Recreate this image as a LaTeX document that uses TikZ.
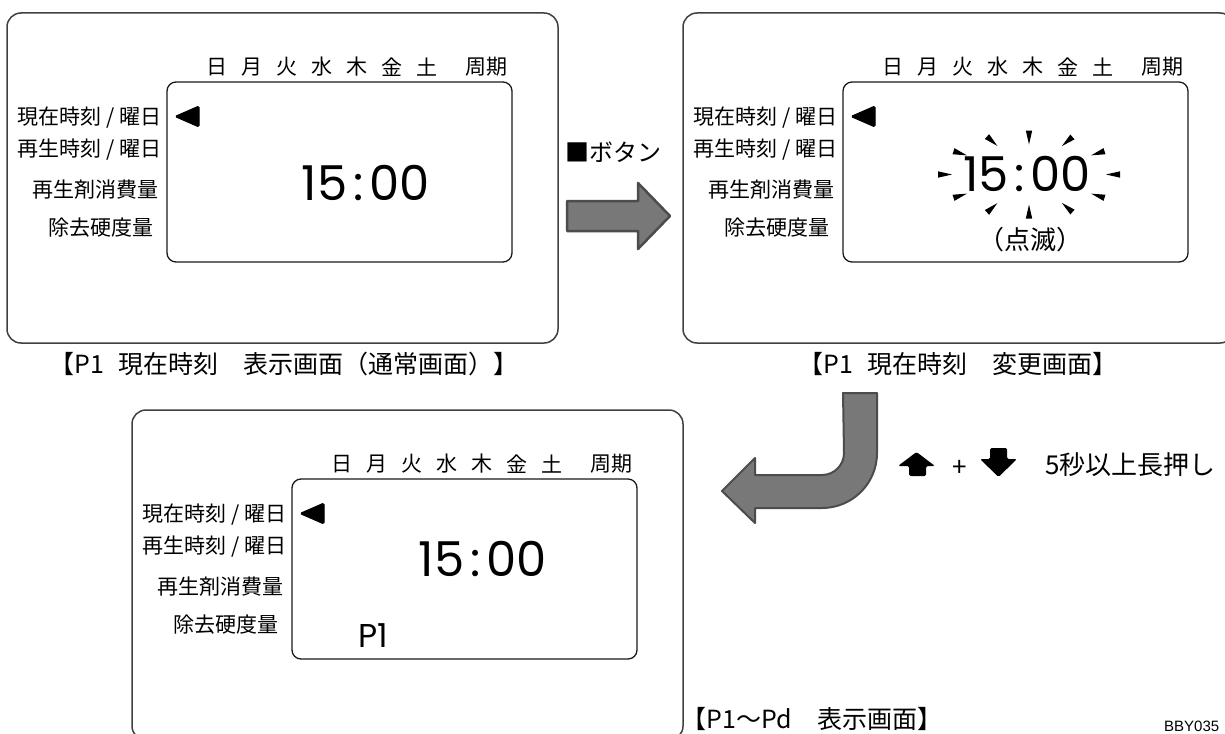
\documentclass[tikz,border=0pt]{standalone}
\usepackage{fontspec}
\setmainfont{Noto Sans CJK JP}
\newfontfamily\digfont{Poppins}
\newfontfamily\codefont{Liberation Sans}
\newcommand\slashsep{\hspace{5pt}/\hspace{5pt}}
\newcommand\clocktext{15\kern6pt:\kern6pt00}
\newcommand\drawpanel{%
  \node[outerbox, minimum width=551pt, minimum height=330pt] (frame) at (282.5,178) {};
  \node[screen, minimum width=345pt, minimum height=180pt] (screen) at (339.5,172) {};
  \foreach \d/\x [count=\i] in {日/217,月/252,火/287,水/322,木/357,金/392,土/427,周期/486}
    \node[day] (day\i) at (\x,67) {\d};
  \draw[cursor] (175,116.5) -- (199,106) -- (199,127) -- cycle;
  \node[lbl] (l1) at (162,118) {現在時刻\slashsep 曜日};
  \node[lbl] (l2) at (162,150) {再生時刻\slashsep 曜日};
  \node[lbl] (l3) at (159,190) {再生剤消費量};
  \node[lbl] (l4) at (154,228) {除去硬度量};
}
\begin{document}
\begin{tikzpicture}[x=1pt,y=-1pt, line join=round,
  outerbox/.style={draw=black!75, line width=1.5pt, rounded corners=14pt, inner sep=0pt},
  screen/.style={draw=black!90, line width=1.3pt, rounded corners=9pt, inner sep=0pt},
  lbl/.style={font=\fontsize{21}{21}\selectfont, inner sep=0pt, anchor=east},
  day/.style={font=\fontsize{21}{21}\selectfont, inner sep=0pt},
  caption/.style={font=\fontsize{25}{25}\selectfont, inner sep=0pt},
  clock/.style={font=\digfont\fontsize{48}{48}\selectfont, inner sep=0pt},
  plabel/.style={font=\digfont\fontsize{33}{33}\selectfont, inner sep=0pt},
  note/.style={font=\fontsize{26}{26}\selectfont, inner sep=0pt},
  cursor/.style={fill=black, draw=black, line width=1pt, rounded corners=1.5pt},
  blockarrow/.style={fill=black!53, draw=black!70, line width=2.5pt},
  keyarrow/.style={fill=black, rounded corners=1.5pt},
  spike/.style={fill=black}]
\useasboundingbox (0,0) rectangle (1225,733);
\fill[white] (0,0) rectangle (1225,733);

% Panel 1
\begin{scope}[name prefix=a-]
  \drawpanel
  \node[clock] (time) at (366,183.5) {\clocktext};
\end{scope}
\node[caption] (cap1) at (284,364) {【P1\hspace{0.55em}現在時刻　表示画面（通常画面）】};

% Panel 2
\begin{scope}[shift={(676,0)}, name prefix=b-]
  \drawpanel
\end{scope}
\node[clock] (b-time) at (1027,174.5) {\clocktext};
\foreach \t in {0,35,63,90,116,145,180,215,244,270,297,325}{
  \pgfmathsetmacro{\dir}{-atan2(37*sin(\t),84*cos(\t))}
  \pgfmathsetmacro{\px}{1029+84*cos(\t)}
  \pgfmathsetmacro{\py}{174.5+37*sin(\t)}
  \begin{scope}[shift={(\px,\py)}, rotate=\dir]
    \fill[spike] (7,-3.2) -- (7,3.2) -- (-7,0) -- cycle;
  \end{scope}
}
\node[font=\fontsize{26}{26}\selectfont, inner sep=0pt] (blink) at (1030,240) {（点滅）};
\node[caption] (cap2) at (958,364) {【P1\hspace{0.55em}現在時刻　変更画面】};

% Panel 3
\begin{scope}[shift={(125,397)}, name prefix=c-]
  \drawpanel
\end{scope}
\node[clock] (c-time) at (483,559) {\clocktext};
\node[plabel] (c-p1) at (373.5,635.5) {P1};
\node[caption] (cap3) at (812,719) {【P1～Pd　表示画面】};

% Button label and right arrow
\node[font=\fontsize{24}{24}\selectfont, inner sep=0pt] (btn) at (613,152) {■ボタン};
\draw[blockarrow] (567,201) -- (638,201) -- (638,183) -- (670,216) -- (638,249) -- (638,231) -- (567,231) -- cycle;

% Bent arrow
\draw[blockarrow, line width=2pt] (843,393) -- (877,393) -- (877,453)
  arc[start angle=0, end angle=90, radius=55] -- (755,508) -- (755,523) -- (722,491)
  -- (755,458) -- (755,475) -- (822,475) arc[start angle=90, end angle=0, radius=22] -- cycle;

% Key arrows and text
\fill[keyarrow] (916.5,452) -- (935,466) -- (926,466) -- (926,476) -- (909,476) -- (909,466) -- (898,466) -- cycle;
\node[font=\fontsize{26}{26}\selectfont, inner sep=0pt] (plus) at (960,468) {+};
\fill[keyarrow] (990,448) -- (1007,448) -- (1007,459) -- (1017,459) -- (998.5,477) -- (980,459) -- (990,459) -- cycle;
\node[note, anchor=west] (hold) at (1045,465) {5秒以上長押し};

\node[font=\codefont\fontsize{15}{15}\selectfont, inner sep=0pt, anchor=west] (code) at (1164,726) {BBY035};
\end{tikzpicture}
\end{document}
